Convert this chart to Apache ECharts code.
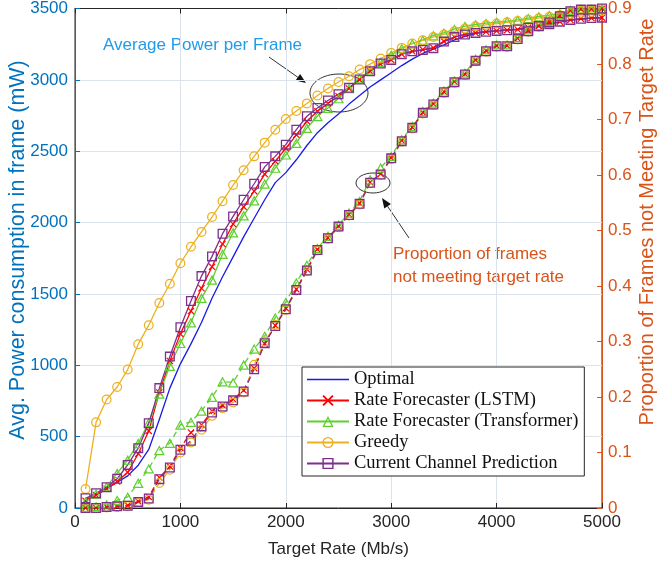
<!DOCTYPE html>
<html>
<head>
<meta charset="utf-8">
<script src="https://cdn.jsdelivr.net/npm/echarts@6/dist/echarts.min.js"></script>
<style>
  html, body { margin: 0; padding: 0; background: #fff; }
  #chart { width: 657px; height: 565px; }
</style>
</head>
<body>
<div id="chart"></div>
<script>
// target rates (Mb/s)
var rates = [100, 200, 300, 400, 500, 600, 700, 800, 900, 1000,
  1100, 1200, 1300, 1400, 1500, 1600, 1700, 1800, 1900, 2000,
  2100, 2200, 2300, 2400, 2500, 2600, 2700, 2800, 2900, 3000,
  3100, 3200, 3300, 3400, 3500, 3600, 3700, 3800, 3900, 4000,
  4100, 4200, 4300, 4400, 4500, 4600, 4700, 4800, 4900, 5000];

// avg power per frame (mW), left axis
var powerOptimal = [50, 90, 135, 180, 225, 300, 410, 620, 840, 1010,
  1150, 1300, 1470, 1620, 1760, 1900, 2030, 2160, 2280, 2350,
  2440, 2540, 2630, 2700, 2760, 2830, 2890, 2950, 3000, 3050,
  3100, 3145, 3185, 3215, 3245, 3280, 3305, 3325, 3337, 3343,
  3350, 3355, 3365, 3378, 3390, 3405, 3418, 3426, 3432, 3436];
var powerLSTM = [50, 90, 135, 185, 250, 380, 540, 810, 1030, 1220,
  1380, 1540, 1690, 1850, 1990, 2110, 2220, 2340, 2430, 2520,
  2615, 2710, 2780, 2835, 2885, 2940, 3000, 3060, 3110, 3140,
  3180, 3200, 3212, 3225, 3270, 3300, 3318, 3329, 3337, 3343,
  3348, 3353, 3366, 3378, 3390, 3408, 3420, 3428, 3433, 3436];
var powerTransformer = [44, 100, 150, 243, 337, 454, 600, 800, 995, 1155,
  1300, 1471, 1599, 1780, 1930, 2050, 2155, 2272, 2383, 2476,
  2558, 2663, 2745, 2803, 2870, 2940, 3010, 3070, 3125, 3175,
  3220, 3255, 3280, 3311, 3329, 3355, 3376, 3388, 3397, 3405,
  3411, 3420, 3432, 3444, 3453, 3465, 3476, 3485, 3490, 3495];
var powerGreedy = [133, 600, 760, 848, 970, 1148, 1281, 1436, 1571, 1715,
  1830, 1934, 2039, 2150, 2263, 2366, 2464, 2560, 2650, 2726,
  2782, 2835, 2890, 2940, 2985, 3025, 3072, 3110, 3150, 3189,
  3224, 3254, 3277, 3300, 3318, 3340, 3360, 3375, 3385, 3395,
  3403, 3412, 3422, 3432, 3442, 3452, 3462, 3470, 3476, 3482];
var powerCurrent = [68, 103, 145, 205, 302, 419, 594, 840, 1061, 1267,
  1450, 1625, 1763, 1922, 2043, 2160, 2272, 2390, 2464, 2546,
  2651, 2745, 2803, 2855, 2900, 2944, 3002, 3060, 3115, 3140,
  3180, 3200, 3210, 3222, 3268, 3300, 3318, 3329, 3337, 3343,
  3348, 3353, 3365, 3378, 3390, 3408, 3420, 3428, 3433, 3436];

// proportion of frames not meeting target rate, right axis
var propLSTM = [0, 0, 0.002, 0.003, 0.005, 0.012, 0.02, 0.055, 0.075, 0.108,
  0.136, 0.15, 0.175, 0.185, 0.196, 0.212, 0.252, 0.296, 0.329, 0.36,
  0.394, 0.43, 0.466, 0.487, 0.508, 0.529, 0.549, 0.587, 0.602, 0.631,
  0.662, 0.686, 0.713, 0.728, 0.75, 0.768, 0.782, 0.807, 0.824, 0.833,
  0.833, 0.846, 0.86, 0.869, 0.876, 0.887, 0.896, 0.899, 0.899, 0.9];
var propTransformer = [0.002, 0.003, 0.006, 0.014, 0.02, 0.045, 0.071, 0.104, 0.117, 0.15,
  0.155, 0.175, 0.2, 0.228, 0.226, 0.258, 0.287, 0.31, 0.343, 0.371,
  0.406, 0.438, 0.468, 0.49, 0.51, 0.532, 0.553, 0.592, 0.613, 0.634,
  0.664, 0.688, 0.715, 0.73, 0.752, 0.77, 0.784, 0.809, 0.826, 0.835,
  0.835, 0.848, 0.862, 0.87, 0.878, 0.889, 0.897, 0.899, 0.899, 0.9];
var propGreedy = [0, 0, 0.001, 0.002, 0.003, 0.009, 0.015, 0.045, 0.069, 0.1,
  0.118, 0.141, 0.166, 0.18, 0.19, 0.208, 0.258, 0.3, 0.33, 0.357,
  0.392, 0.427, 0.464, 0.485, 0.506, 0.527, 0.547, 0.585, 0.6, 0.629,
  0.66, 0.684, 0.711, 0.726, 0.748, 0.766, 0.78, 0.805, 0.822, 0.831,
  0.831, 0.844, 0.858, 0.867, 0.874, 0.885, 0.894, 0.897, 0.897, 0.899];
var propCurrent = [0, 0, 0.002, 0.003, 0.004, 0.011, 0.017, 0.052, 0.073, 0.105,
  0.121, 0.147, 0.172, 0.183, 0.194, 0.21, 0.25, 0.297, 0.328, 0.358,
  0.393, 0.428, 0.465, 0.486, 0.507, 0.528, 0.548, 0.586, 0.601, 0.63,
  0.661, 0.685, 0.712, 0.727, 0.749, 0.767, 0.781, 0.806, 0.823, 0.832,
  0.832, 0.845, 0.859, 0.868, 0.875, 0.886, 0.895, 0.898, 0.898, 0.9];

var names = ['Optimal', 'Rate Forecaster (LSTM)', 'Rate Forecaster (Transformer)', 'Greedy', 'Current Channel Prediction'];

// hollow marker shapes (ring paths so lines show through, like matlab)
var SQUARE = 'path://M0,0H10V10H0Z M1.3,1.3V8.7H8.7V1.3Z';
var CIRCLE = 'path://M5,0A5,5,0,1,1,5,10A5,5,0,1,1,5,0Z M5,1.25A3.75,3.75,0,1,0,5,8.75A3.75,3.75,0,1,0,5,1.25Z';
var TRIANGLE = 'path://M5,0L10,9L0,9Z M5,2.3L1.9,7.9L8.1,7.9Z';
var CROSS = 'path://M0,1.2L1.2,0L5,3.8L8.8,0L10,1.2L6.2,5L10,8.8L8.8,10L5,6.2L1.2,10L0,8.8L3.8,5Z';
var PLAIN_LINE = 'path://M0,0H42V1.3H0Z';

var FONT = 'Liberation Sans';
var BLUE = '#0072BD', ORANGE = '#D95319', GRID = '#dde3ea', DARK = '#262626';

function pairs(ys) {
  var out = [];
  for (var i = 0; i < rates.length; i++) out.push([rates[i], ys[i]]);
  return out;
}

function mkSeries(name, ys, axis, color, symbol, size, dashed) {
  return {
    name: name,
    type: 'line',
    yAxisIndex: axis,
    data: pairs(ys),
    symbol: symbol,
    symbolSize: size,
    symbolKeepAspect: true,
    showAllSymbol: true,
    itemStyle: { color: color },
    lineStyle: { color: color, width: 1.3, type: dashed ? [6, 4] : 'solid' },
    emphasis: { disabled: true },
    z: 3
  };
}

// arrow: line plus filled head at the end point
function arrow(x1, y1, x2, y2) {
  var a = Math.atan2(y2 - y1, x2 - x1), L = 10, W = 4;
  var bx = x2 - L * Math.cos(a), by = y2 - L * Math.sin(a);
  return [
    { type: 'line', shape: { x1: x1, y1: y1, x2: bx, y2: by }, style: { stroke: '#333', lineWidth: 1 } },
    { type: 'polygon', shape: { points: [[x2, y2],
        [bx + W * Math.sin(a), by - W * Math.cos(a)],
        [bx - W * Math.sin(a), by + W * Math.cos(a)]] }, style: { fill: '#111' } }
  ];
}

var chart = echarts.init(document.getElementById('chart'));

var series = [
  mkSeries(names[0], powerOptimal, 0, '#1a1ae6', 'none', 0, false),
  mkSeries(names[1], powerLSTM, 0, '#ff0000', CROSS, 7, false),
  mkSeries(names[2], powerTransformer, 0, '#5fcf2f', TRIANGLE, 11, false),
  mkSeries(names[3], powerGreedy, 0, '#EDB120', CIRCLE, 10, false),
  mkSeries(names[4], powerCurrent, 0, '#7E2F8E', SQUARE, 10, false),
  mkSeries(names[1], propLSTM, 1, '#ff0000', CROSS, 7, true),
  mkSeries(names[2], propTransformer, 1, '#5fcf2f', TRIANGLE, 11, true),
  mkSeries(names[3], propGreedy, 1, '#EDB120', CIRCLE, 10, true),
  mkSeries(names[4], propCurrent, 1, '#7E2F8E', SQUARE, 10, true)
];

var graphic = [
  { type: 'text', x: 18, y: 250, rotation: Math.PI / 2,
    style: { text: 'Avg. Power consumption in frame (mW)', fill: BLUE, fontSize: 21.5, fontFamily: FONT, align: 'center', verticalAlign: 'middle' } },
  { type: 'text', x: 647, y: 222, rotation: Math.PI / 2,
    style: { text: 'Proportion of Frames not Meeting Target Rate', fill: ORANGE, fontSize: 20, fontFamily: FONT, align: 'center', verticalAlign: 'middle' } },
  { type: 'text', x: 103, y: 45,
    style: { text: 'Average Power per Frame', fill: '#1E9BEB', fontSize: 17, fontFamily: FONT, align: 'left', verticalAlign: 'middle' } },
  { type: 'text', x: 393, y: 254,
    style: { text: 'Proportion of frames', fill: ORANGE, fontSize: 17, fontFamily: FONT, align: 'left', verticalAlign: 'middle' } },
  { type: 'text', x: 393, y: 277,
    style: { text: 'not meeting target rate', fill: ORANGE, fontSize: 17, fontFamily: FONT, align: 'left', verticalAlign: 'middle' } },
  { type: 'ellipse', shape: { cx: 339, cy: 93, rx: 29, ry: 19 }, style: { fill: 'none', stroke: '#333', lineWidth: 1 } },
  { type: 'ellipse', shape: { cx: 373, cy: 183, rx: 17, ry: 10 }, style: { fill: 'none', stroke: '#333', lineWidth: 1 } }
].concat(arrow(269, 57, 306, 83), arrow(409, 238, 382, 198));

chart.setOption({
  animation: false,
  backgroundColor: '#fff',
  textStyle: { fontFamily: FONT },
  grid: { left: 75, right: 55, top: 8, bottom: 57, show: true, borderColor: DARK, borderWidth: 1, backgroundColor: '#fff' },
  legend: {
    data: [{ name: names[0], icon: PLAIN_LINE }, names[1], names[2], names[3], names[4]],
    orient: 'vertical',
    left: 302, top: 367,
    padding: [3, 6, 3, 4],
    itemGap: 2,
    itemWidth: 42,
    itemHeight: 14,
    backgroundColor: '#fff',
    borderColor: DARK,
    borderWidth: 1,
    borderRadius: 0,
    textStyle: { fontFamily: 'Liberation Serif', fontSize: 18.5, lineHeight: 19, color: '#111' }
  },
  xAxis: [{
    type: 'value', min: 0, max: 5000, interval: 1000, position: 'bottom',
    name: 'Target Rate (Mb/s)', nameLocation: 'middle', nameGap: 33,
    nameTextStyle: { color: DARK, fontSize: 17, fontFamily: FONT },
    axisLine: { show: true, onZero: false, lineStyle: { color: DARK } },
    axisTick: { show: true, inside: true, length: 5, lineStyle: { color: DARK } },
    axisLabel: { color: DARK, fontSize: 17, margin: 6, fontFamily: FONT, formatter: function (v) { return String(v); } },
    splitLine: { show: true, lineStyle: { color: GRID } }
  }, {
    type: 'value', min: 0, max: 5000, interval: 1000, position: 'top',
    axisLine: { show: true, onZero: false, lineStyle: { color: DARK } },
    axisTick: { show: true, inside: true, length: 5, lineStyle: { color: DARK } },
    axisLabel: { show: false },
    splitLine: { show: false }
  }],
  yAxis: [{
    type: 'value', min: 0, max: 3500, interval: 500, position: 'left',
    axisLine: { show: true, onZero: false, lineStyle: { color: BLUE } },
    axisTick: { show: true, inside: true, length: 5, lineStyle: { color: BLUE } },
    axisLabel: { color: BLUE, fontSize: 17, margin: 7, fontFamily: FONT, formatter: function (v) { return String(v); } },
    splitLine: { show: true, lineStyle: { color: GRID } }
  }, {
    type: 'value', min: 0, max: 0.9, interval: 0.1, position: 'right',
    axisLine: { show: true, onZero: false, lineStyle: { color: ORANGE } },
    axisTick: { show: true, inside: true, length: 5, lineStyle: { color: ORANGE } },
    axisLabel: { color: ORANGE, fontSize: 17, margin: 6, fontFamily: FONT, formatter: function (v) { return String(Math.round(v * 10) / 10); } },
    splitLine: { show: false }
  }],
  series: series,
  graphic: graphic
});
</script>
</body>
</html>
